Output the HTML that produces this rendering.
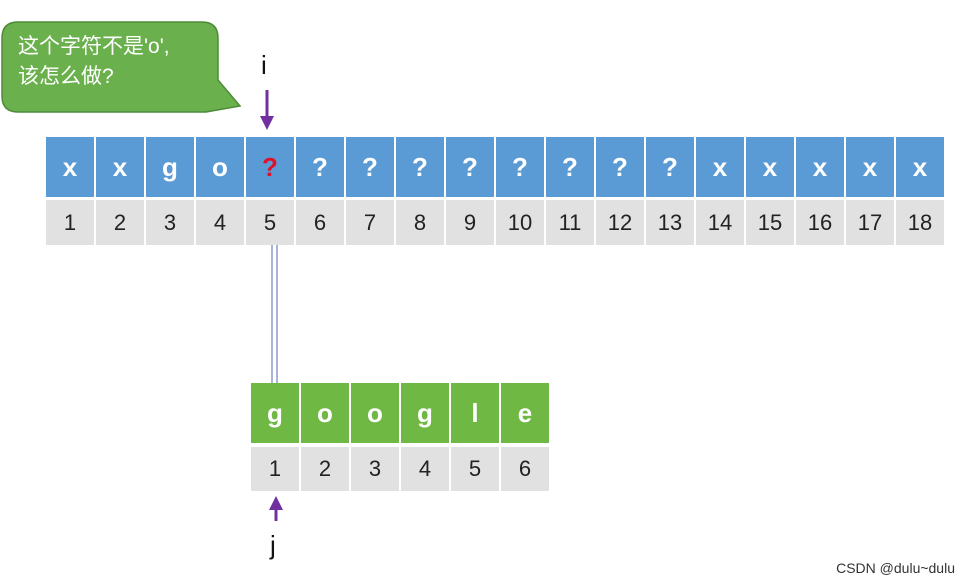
<!DOCTYPE html>
<html><head><meta charset="utf-8"><style>
body{margin:0;width:967px;height:584px;background:#fff;position:relative;overflow:hidden;font-family:"Liberation Sans","Noto Sans CJK SC",sans-serif}
.c{position:absolute;box-sizing:border-box;display:flex;align-items:center;justify-content:center}
.b{background:#5b9bd5;color:#fff;font-weight:bold;font-size:26px;height:60px;top:137px;width:48px}
.g{background:#e1e1e1;color:#222;font-size:22px;height:45px;top:200px;width:48px}
.gr{background:#6fb843;color:#fff;font-weight:bold;font-size:26px;height:60px;top:383px;width:48px}
.g2{background:#e1e1e1;color:#222;font-size:22px;height:44px;top:447px;width:48px}
.t{position:absolute;font-size:26px;color:#111}
</style></head><body>
<svg width="967" height="584" style="position:absolute;left:0;top:0">
<path d="M18 22 H202 Q218 22 218 38 V80 L240 106 L206 112 H18 Q2 112 2 96 V38 Q2 22 18 22 Z" fill="#6ab04c" stroke="#4f8a3a" stroke-width="1.5"/>
<line x1="267" y1="90" x2="267" y2="118" stroke="#7030a0" stroke-width="3"/>
<polygon points="260,116 274,116 267,130" fill="#7030a0"/>
<line x1="272" y1="245" x2="272" y2="383" stroke="#8e9cc8" stroke-width="1.5"/>
<line x1="277" y1="245" x2="277" y2="383" stroke="#8e9cc8" stroke-width="1.5"/>
<line x1="276" y1="508" x2="276" y2="521" stroke="#7030a0" stroke-width="3"/>
<polygon points="269,510 283,510 276,496" fill="#7030a0"/>
</svg>
<div style="position:absolute;left:18px;top:32px;color:#fff;font-size:21px;line-height:30px">这个字符不是'o',<br>该怎么做?</div>
<div class="t" style="left:261px;top:50px">i</div>
<div class="t" style="left:270px;top:530px">j</div>
<div id="top"></div>
<script>
var L=['x','x','g','o','?','?','?','?','?','?','?','?','?','x','x','x','x','x'];
var h='';
for(var i=0;i<18;i++){var x=46+i*50;
h+='<div class="c b" style="left:'+x+'px;'+(i==4?'color:#e0102a':'')+'">'+L[i]+'</div>';
h+='<div class="c g" style="left:'+x+'px">'+(i+1)+'</div>';}
var G='google';
for(var i=0;i<6;i++){var x=251+i*50;
h+='<div class="c gr" style="left:'+x+'px">'+G[i]+'</div>';
h+='<div class="c g2" style="left:'+x+'px">'+(i+1)+'</div>';}
document.getElementById('top').innerHTML=h;
</script>
<div style="position:absolute;right:12px;top:560px;font-size:14px;color:#333">CSDN @dulu~dulu</div>
</body></html>
